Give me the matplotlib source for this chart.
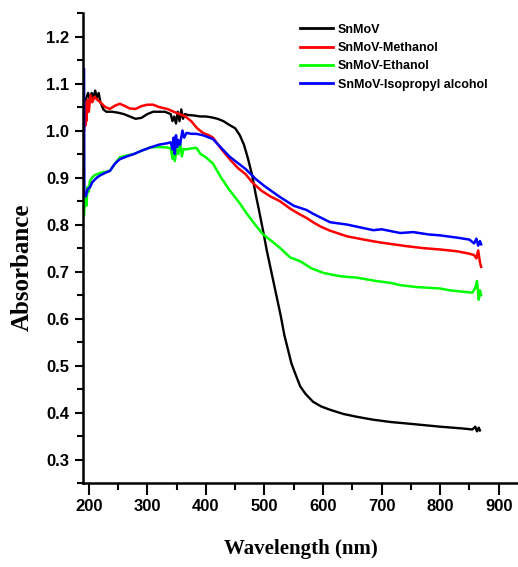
import matplotlib
matplotlib.use('Agg')
import matplotlib.pyplot as plt
from matplotlib.ticker import MultipleLocator

# SnMoV
wl_black = [193, 196, 199, 202, 205, 208, 211, 214, 217, 220, 225, 230, 240, 250, 260,
            270, 280, 290, 300, 310, 320, 330, 340, 343, 346, 349, 352, 355, 358, 361,
            364, 370, 380, 390, 400, 410, 420, 430, 440, 450, 458, 465, 472, 479, 485,
            490, 498, 504, 510, 516, 522, 528, 534, 540, 546, 552, 561, 570, 583, 597,
            612, 635, 658, 685, 715, 750, 800, 840, 855, 860, 863, 866, 868]
ab_black = [1.05, 1.07, 1.08, 1.065, 1.08, 1.07, 1.085, 1.07, 1.08, 1.06, 1.045, 1.04,
            1.04, 1.038, 1.035, 1.03, 1.025, 1.027, 1.035, 1.04, 1.04, 1.04, 1.035, 1.02,
            1.03, 1.015, 1.04, 1.02, 1.045, 1.025, 1.035, 1.033, 1.032, 1.03, 1.03, 1.028,
            1.025, 1.02, 1.012, 1.005, 0.99, 0.97, 0.94, 0.905, 0.865, 0.835, 0.785, 0.745,
            0.71, 0.675, 0.64, 0.605, 0.565, 0.535, 0.505, 0.485, 0.456, 0.44, 0.423, 0.413,
            0.406, 0.397, 0.391, 0.385, 0.38, 0.376, 0.37, 0.366, 0.364, 0.37, 0.36, 0.368,
            0.362]

# SnMoV-Methanol
wl_red = [192, 193, 194, 195, 196, 198, 200, 203, 206, 210, 215, 220, 228, 236, 245, 253,
          262, 270, 280, 290, 300, 310, 320, 334, 345, 355, 365, 375, 385, 395, 405, 412,
          425, 440, 455, 468, 479, 495, 510, 526, 545, 560, 572, 583, 597, 612, 641, 670,
          697, 720, 743, 770, 800, 830, 850, 858, 862, 865, 868, 870]
ab_red = [1.0, 1.05, 1.01, 1.06, 1.02, 1.065, 1.04, 1.075, 1.06, 1.072, 1.065, 1.06, 1.05,
          1.046, 1.053, 1.057, 1.052, 1.047, 1.046, 1.052, 1.055, 1.055, 1.05, 1.046, 1.04,
          1.035, 1.03, 1.02, 1.005, 0.995, 0.99, 0.985, 0.963, 0.94, 0.92, 0.907, 0.89,
          0.872, 0.86, 0.85, 0.833, 0.822, 0.814, 0.805, 0.795, 0.787, 0.775, 0.768, 0.762,
          0.758, 0.754, 0.75, 0.747, 0.743, 0.738, 0.735, 0.728, 0.745, 0.72, 0.71]

# SnMoV-Ethanol
wl_green = [192, 194, 196, 198, 200, 202, 206, 210, 214, 220, 228, 236, 245, 253, 265, 277,
            290, 305, 320, 334, 340, 343, 345, 347, 350, 353, 356, 359, 362, 367, 375, 384,
            391, 400, 412, 426, 440, 458, 470, 484, 497, 512, 526, 544, 561, 580, 601, 617,
            630, 658, 690, 715, 732, 760, 800, 817, 840, 855, 860, 863, 866, 868, 870]
ab_green = [0.82, 0.86, 0.84, 0.88, 0.87, 0.893, 0.9, 0.905, 0.907, 0.91, 0.912, 0.914,
            0.93, 0.943, 0.947, 0.95, 0.957, 0.964, 0.965, 0.964, 0.962, 0.94, 0.965, 0.935,
            0.96, 0.95, 0.975, 0.945, 0.961, 0.96, 0.962, 0.963, 0.95, 0.943, 0.93, 0.9,
            0.874, 0.845, 0.823, 0.8, 0.78, 0.765, 0.751, 0.73, 0.722, 0.707, 0.697, 0.693,
            0.69, 0.687, 0.68, 0.676, 0.671, 0.667, 0.664, 0.66, 0.657, 0.655, 0.665, 0.68,
            0.64, 0.66, 0.65]

# SnMoV-Isopropyl alcohol
wl_blue = [192, 192.5, 195, 198, 202, 206, 210, 214, 220, 228, 236, 245, 253, 265, 277, 290,
           305, 320, 334, 340, 343, 345, 347, 349, 351, 353, 356, 360, 363, 367, 375, 384,
           395, 412, 440, 468, 485, 500, 526, 550, 572, 583, 612, 641, 686, 700, 732, 754,
           780, 800, 830, 850, 858, 862, 865, 868, 870]
ab_blue = [1.13, 0.87, 0.86, 0.875, 0.879, 0.89, 0.895, 0.9, 0.905, 0.91, 0.914, 0.93,
           0.939, 0.945, 0.95, 0.957, 0.964, 0.97, 0.973, 0.975, 0.96, 0.985, 0.95, 0.99,
           0.965, 0.98, 0.97, 1.0, 0.985, 0.995, 0.993, 0.993, 0.99, 0.982, 0.945, 0.918,
           0.897, 0.882, 0.859, 0.84, 0.831, 0.823, 0.805, 0.8, 0.788, 0.79, 0.782, 0.784,
           0.779, 0.777, 0.772, 0.768, 0.76, 0.77, 0.755, 0.765, 0.758]

labels = ['SnMoV', 'SnMoV-Methanol', 'SnMoV-Ethanol', 'SnMoV-Isopropyl alcohol']

fig = plt.figure(figsize=(5.18, 5.67), dpi=100)
ax = fig.add_axes([0.160, 0.148, 0.840, 0.829])

ax.plot(wl_black, ab_black, color='black', lw=1.7, label=labels[0])
ax.plot(wl_red, ab_red, color='#ff0000', lw=1.8, label=labels[1])
ax.plot(wl_green, ab_green, color='#00ff00', lw=1.8, label=labels[2])
ax.plot(wl_blue, ab_blue, color='#0000ff', lw=1.8, label=labels[3])

ax.set_xlim(190, 933)
ax.set_ylim(0.25, 1.25)
ax.xaxis.set_major_locator(MultipleLocator(100))
ax.xaxis.set_minor_locator(MultipleLocator(50))
ax.yaxis.set_major_locator(MultipleLocator(0.1))
ax.yaxis.set_minor_locator(MultipleLocator(0.05))
ax.yaxis.set_major_formatter(plt.FormatStrFormatter('%.1f'))

for s in ['top', 'right']:
    ax.spines[s].set_visible(False)
for s in ['left', 'bottom']:
    ax.spines[s].set_linewidth(1.8)

# x ticks are longer than y ticks in the original
ax.tick_params(axis='x', which='major', direction='out', length=8.5, width=1.5, pad=3)
ax.tick_params(axis='x', which='minor', direction='out', length=5, width=1.5)
ax.tick_params(axis='y', which='major', direction='out', length=6, width=1.5, pad=4)
ax.tick_params(axis='y', which='minor', direction='out', length=4, width=1.5)
for lab in ax.get_xticklabels() + ax.get_yticklabels():
    lab.set_fontfamily('Liberation Sans')
    lab.set_fontweight('bold')
    lab.set_fontsize(12)

ax.set_xlabel('Wavelength (nm)', family='Liberation Serif', weight='bold', fontsize=15,
              labelpad=18)
ax.set_ylabel('Absorbance', family='Liberation Serif', weight='bold', fontsize=18,
              labelpad=9)
ax.yaxis.label.set_y(0.46)

leg = ax.legend(loc='upper left', bbox_to_anchor=(0.579, 0.958),
                bbox_transform=fig.transFigure, frameon=False, borderpad=0,
                borderaxespad=0, handlelength=2.65, handletextpad=0.4,
                labelspacing=0.5, prop={'family': 'Liberation Sans', 'weight': 'bold',
                                        'size': 9})
for line in leg.get_lines():
    line.set_linewidth(2)

plt.savefig('out.png', dpi=100)
